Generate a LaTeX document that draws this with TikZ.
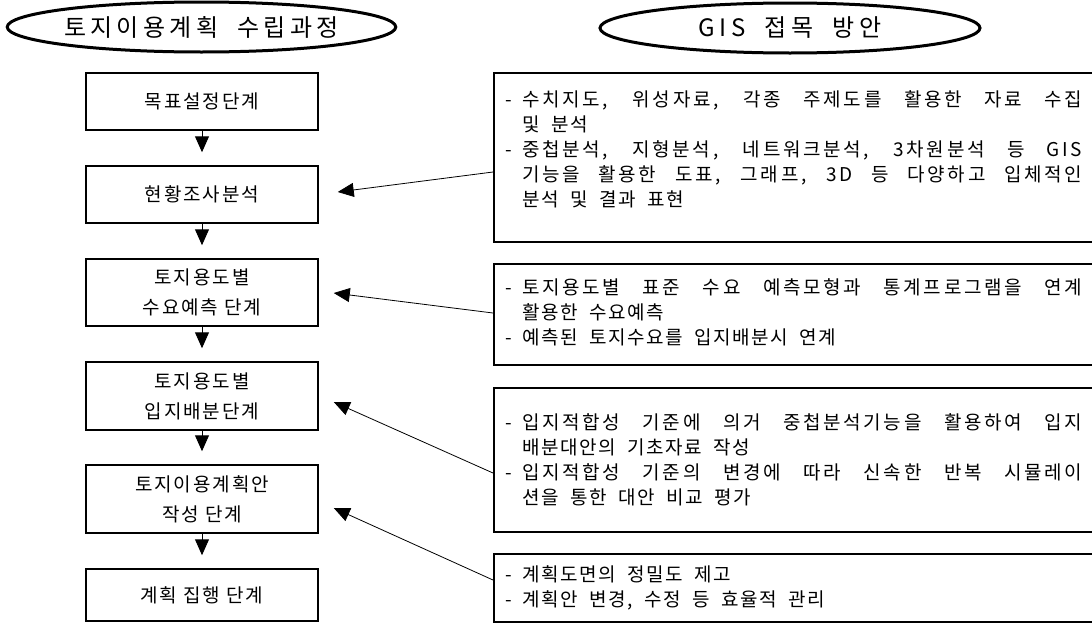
\documentclass[tikz,border=0pt]{standalone}
\usepackage{fontspec}
\newfontfamily\krA{Noto Sans CJK KR}[LetterSpace=10]
\newfontfamily\krB{Noto Sans CJK KR}[LetterSpace=8, WordSpace=2]
\newfontfamily\krJ{Noto Sans CJK KR}[LetterSpace=14, WordSpace=2]
\newfontfamily\krT{Noto Sans CJK KR}[LetterSpace=18, WordSpace=2]
\usetikzlibrary{arrows.meta,calc,shapes.geometric}
\newcommand{\bl}[1]{\makebox[17pt][l]{-}\makebox[560pt][s]{\krJ #1}}
\newcommand{\bn}[1]{\makebox[17pt][l]{-}#1}
\newcommand{\jl}[1]{\hspace*{17pt}\makebox[560pt][s]{\krJ #1}}
\newcommand{\nl}[1]{\hspace*{17pt}#1}
\begin{document}
\begin{tikzpicture}[x=1pt,y=-1pt,
  ell/.style={draw, ellipse, line width=3pt, inner sep=0pt,
    font=\krT\fontsize{24}{28}\selectfont},
  stage/.style={draw, line width=1.5pt, minimum width=232pt, inner sep=0pt,
    align=center, font=\krA\fontsize{19}{30}\selectfont},
  gis/.style={draw, line width=1.5pt, minimum width=602pt, inner sep=0pt, anchor=west},
  gtext/.style={anchor=base west, inner sep=0pt, align=left,
    font=\krB\fontsize{19}{25}\selectfont},
  varr/.style={line width=1pt, -{Triangle[length=16pt,width=14pt]}, shorten >=13pt},
  darr/.style={line width=0.8pt, -{Triangle[length=16pt,width=14pt]}}
]
\useasboundingbox (0,0) rectangle (1092,624);
\clip (0,0) rectangle (1092,624);

% titles
\node[ell, minimum width=383pt, minimum height=50pt] (t1) at (201.5,27) {토지이용계획 수립과정};
\node[ell, minimum width=380pt, minimum height=50pt] (t2) at (790,28) {GIS 접목 방안};

% stages
\node[stage, minimum height=57pt] (s1) at (202,101.5) {목표설정단계};
\node[stage, minimum height=57pt] (s2) at (202,194.5) {현황조사분석};
\node[stage, minimum height=67pt] (s3) at (202,292.5) {토지용도별\\수요예측 단계};
\node[stage, minimum height=68pt] (s4) at (202,396) {토지용도별\\입지배분단계};
\node[stage, minimum height=68pt] (s5) at (202,499) {토지이용계획안\\작성 단계};
\node[stage, minimum height=52pt] (s6) at (202,595) {계획 집행 단계};

\draw[varr] (s1) -- (s2);
\draw[varr] (s2) -- (s3);
\draw[varr] (s3) -- (s4);
\draw[varr] (s4) -- (s5);
\draw[varr] (s5) -- (s6);

% GIS boxes
\node[gis, minimum height=169pt] (gA) at (493,157.5) {};
\node[gis, minimum height=101pt] (gB) at (493,314.5) {};
\node[gis, minimum height=144pt] (gC) at (493,460) {};
\node[gis, minimum height=68pt] (gD) at (493,588) {};

\node[gtext] (tA) at (505,206) {%
\bl{수치지도, 위성자료, 각종 주제도를 활용한 자료 수집}\\
\nl{및 분석}\\
\bl{중첩분석, 지형분석, 네트워크분석, 3차원분석 등 GIS}\\
\jl{기능을 활용한 도표, 그래프, 3D 등 다양하고 입체적인}\\
\nl{분석 및 결과 표현}};
\node[gtext] (tB) at (505,344) {%
\bl{토지용도별 표준 수요 예측모형과 통계프로그램을 연계}\\
\nl{활용한 수요예측}\\
\bn{예측된 토지수요를 입지배분시 연계}};
\node[gtext] (tC) at (505,504) {%
\bl{입지적합성 기준에 의거 중첩분석기능을 활용하여 입지}\\
\nl{배분대안의 기초자료 작성}\\
\bl{입지적합성 기준의 변경에 따라 신속한 반복 시뮬레이}\\
\nl{션을 통한 대안 비교 평가}};
\node[gtext] (tD) at (505,606) {%
\bn{계획도면의 정밀도 제고}\\
\bn{계획안 변경, 수정 등 효율적 관리}};

% connectors
\draw[darr] ($(gA.west)+(0,14.5)$) -- ($(s2.east)+(19,-2.5)$);
\draw[darr] ($(gB.west)+(0,-1.5)$) -- ($(s3.east)+(15,0.5)$);
\draw[darr] ($(gC.west)+(0,13)$) -- ($(s4.east)+(15,6)$);
\draw[darr] ($(gD.west)+(0,-8)$) -- ($(s5.east)+(15,9)$);
\end{tikzpicture}
\end{document}
